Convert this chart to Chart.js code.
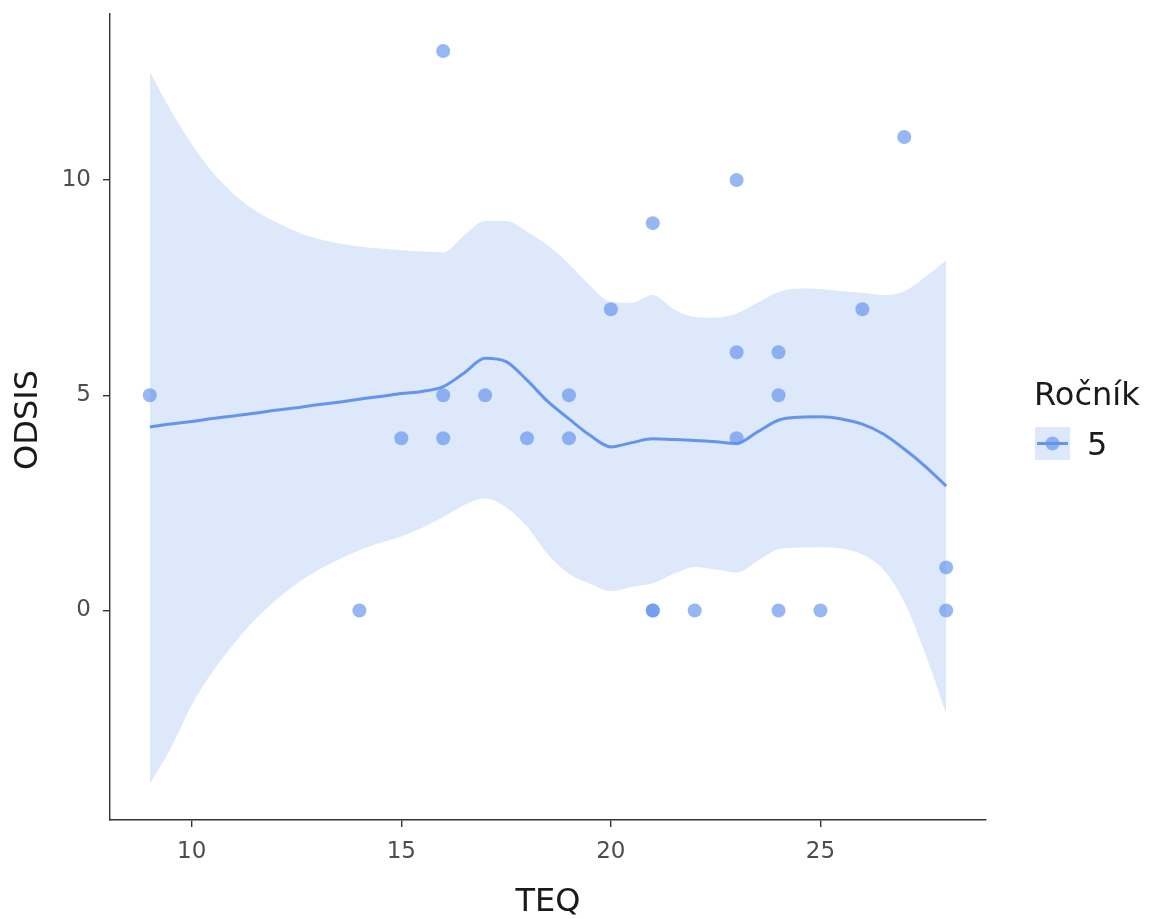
<!DOCTYPE html>
<html>
<head>
<meta charset="utf-8">
<script src="https://cdn.jsdelivr.net/npm/chart.js@4"></script>
<style>
  html, body { margin: 0; padding: 0; background: #ffffff; }
  #wrap { width: 1149px; height: 919px; position: relative; }
</style>
</head>
<body>
<div id="wrap"><canvas id="c" width="1149" height="919"></canvas></div>
<script>
// Observations: TEQ score vs ODSIS score, year group 5
const teq   = [9, 14, 15, 16, 16, 16, 17, 18, 19, 19, 20, 21, 21, 21, 22, 23, 23, 23, 24, 24, 24, 25, 26, 27, 28, 28];
const odsis = [5,  0,  4, 13,  5,  4,  5,  4,  5,  4,  7,  9,  0,  0,  0, 10,  6,  4,  6,  5,  0,  0,  7, 11,  1,  0];

// Loess smoother evaluated along TEQ, with its confidence band
const smoothX     = [9, 9.5, 10, 10.5, 11, 11.5, 12, 12.5, 13, 13.5, 14, 14.5, 15, 15.5, 16, 16.5, 17, 17.5, 18, 18.5, 19, 19.5, 20, 20.5, 21, 21.5, 22, 22.5, 23, 23.5, 24, 24.5, 25, 25.5, 26, 26.5, 27, 27.5, 28];
const smoothFit   = [4.26, 4.33, 4.39, 4.46, 4.52, 4.58, 4.65, 4.71, 4.78, 4.84, 4.91, 4.97, 5.04, 5.09, 5.20, 5.52, 5.86, 5.78, 5.35, 4.85, 4.45, 4.07, 3.80, 3.90, 3.99, 3.97, 3.95, 3.92, 3.88, 4.15, 4.42, 4.49, 4.50, 4.45, 4.33, 4.10, 3.75, 3.35, 2.89];
const smoothUpper = [12.52, 11.62, 10.84, 10.18, 9.68, 9.30, 9.03, 8.80, 8.64, 8.53, 8.46, 8.41, 8.37, 8.34, 8.32, 8.72, 9.05, 9.05, 8.80, 8.48, 8.05, 7.55, 7.17, 7.15, 7.33, 7.00, 6.82, 6.80, 6.90, 7.15, 7.40, 7.48, 7.47, 7.42, 7.38, 7.33, 7.42, 7.75, 8.14];
const smoothLower = [-4.03, -3.20, -2.20, -1.42, -0.78, -0.22, 0.23, 0.62, 0.93, 1.18, 1.40, 1.57, 1.72, 1.92, 2.17, 2.45, 2.60, 2.40, 1.95, 1.30, 0.85, 0.62, 0.45, 0.55, 0.63, 0.85, 1.01, 0.95, 0.88, 1.15, 1.42, 1.46, 1.47, 1.44, 1.30, 0.95, 0.20, -1.00, -2.40];

const xTicks = [10, 15, 20, 25];
const yTicks = [0, 5, 10];
const groupLabel = '5';
const legendTitle = 'Ročník';
const xTitle = 'TEQ';
const yTitle = 'ODSIS';

const BASE = 'rgb(100,149,237)';
const POINT = 'rgba(100,149,237,0.68)';
const BAND = 'rgba(100,149,237,0.22)';
const FONT = '"DejaVu Sans", Verdana, sans-serif';

const pts = (xs, ys) => xs.map((x, i) => ({ x: x, y: ys[i] }));

const titlesAndLegend = {
  id: 'titlesAndLegend',
  afterDraw(chart) {
    const ctx = chart.ctx;
    const area = chart.chartArea;
    ctx.save();
    ctx.fillStyle = '#1a1a1a';
    ctx.font = '32px ' + FONT;
    ctx.textAlign = 'center';
    ctx.textBaseline = 'alphabetic';
    ctx.fillText(xTitle, (area.left + area.right) / 2, 911);
    ctx.translate(37, (area.top + area.bottom) / 2 + 3);
    ctx.rotate(-Math.PI / 2);
    ctx.fillText(yTitle, 0, 0);
    ctx.restore();

    // legend
    ctx.save();
    ctx.fillStyle = '#1a1a1a';
    ctx.font = '32px ' + FONT;
    ctx.textAlign = 'left';
    ctx.textBaseline = 'alphabetic';
    ctx.fillText(legendTitle, 1034, 405);
    const kx = 1035, ky = 427, kw = 35, kh = 33;
    ctx.fillStyle = BAND;
    ctx.fillRect(kx, ky, kw, kh);
    ctx.strokeStyle = BASE;
    ctx.lineWidth = 3;
    ctx.beginPath();
    ctx.moveTo(kx + 2, ky + kh / 2);
    ctx.lineTo(kx + kw - 2, ky + kh / 2);
    ctx.stroke();
    ctx.fillStyle = POINT;
    ctx.beginPath();
    ctx.arc(kx + kw / 2, ky + kh / 2, 7, 0, Math.PI * 2);
    ctx.fill();
    ctx.fillStyle = '#1a1a1a';
    ctx.fillText(groupLabel, 1087, 455);
    ctx.restore();
  }
};

new Chart(document.getElementById('c'), {
  type: 'scatter',
  data: {
    datasets: [
      {
        type: 'line',
        label: 'fit',
        data: pts(smoothX, smoothFit),
        borderColor: BASE,
        borderWidth: 3,
        pointRadius: 0,
        tension: 0.4,
        cubicInterpolationMode: 'monotone',
        fill: false,
        order: 0
      },
      {
        type: 'scatter',
        label: groupLabel,
        data: pts(teq, odsis),
        backgroundColor: POINT,
        borderWidth: 0,
        pointRadius: 7,
        order: 1
      },
      {
        type: 'line',
        label: 'upper',
        data: pts(smoothX, smoothUpper),
        borderWidth: 0,
        borderColor: 'rgba(0,0,0,0)',
        pointRadius: 0,
        tension: 0.4,
        cubicInterpolationMode: 'monotone',
        backgroundColor: BAND,
        fill: '+1',
        order: 2
      },
      {
        type: 'line',
        label: 'lower',
        data: pts(smoothX, smoothLower),
        borderWidth: 0,
        borderColor: 'rgba(0,0,0,0)',
        pointRadius: 0,
        tension: 0.4,
        cubicInterpolationMode: 'monotone',
        fill: false,
        order: 3
      }
    ]
  },
  options: {
    responsive: false,
    animation: false,
    layout: { padding: { top: 14, right: 163, left: 0, bottom: 0 } },
    plugins: {
      legend: { display: false },
      tooltip: { enabled: false },
      filler: { propagate: false }
    },
    scales: {
      x: {
        type: 'linear',
        min: 8.05,
        max: 28.95,
        afterFit(s) { s.height = 99; s.paddingLeft = 0; s.paddingRight = 0; },
        afterBuildTicks(s) { s.ticks = xTicks.map(v => ({ value: v })); },
        border: { display: true, color: '#333333', width: 1.4 },
        grid: { display: true, drawOnChartArea: false, drawTicks: true, tickLength: 7, color: '#333333', lineWidth: 1.4 },
        ticks: { color: '#4d4d4d', font: { family: FONT, size: 23 }, padding: 11, maxRotation: 0 }
      },
      y: {
        type: 'linear',
        min: -4.87,
        max: 13.86,
        afterFit(s) { s.width = 110; s.paddingTop = 0; s.paddingBottom = 0; },
        afterBuildTicks(s) { s.ticks = yTicks.map(v => ({ value: v })); },
        border: { display: true, color: '#333333', width: 1.4 },
        grid: { display: true, drawOnChartArea: false, drawTicks: true, tickLength: 7, color: '#333333', lineWidth: 1.4 },
        ticks: { color: '#4d4d4d', font: { family: FONT, size: 23 }, padding: 12 }
      }
    }
  },
  plugins: [titlesAndLegend]
});
</script>
</body>
</html>
